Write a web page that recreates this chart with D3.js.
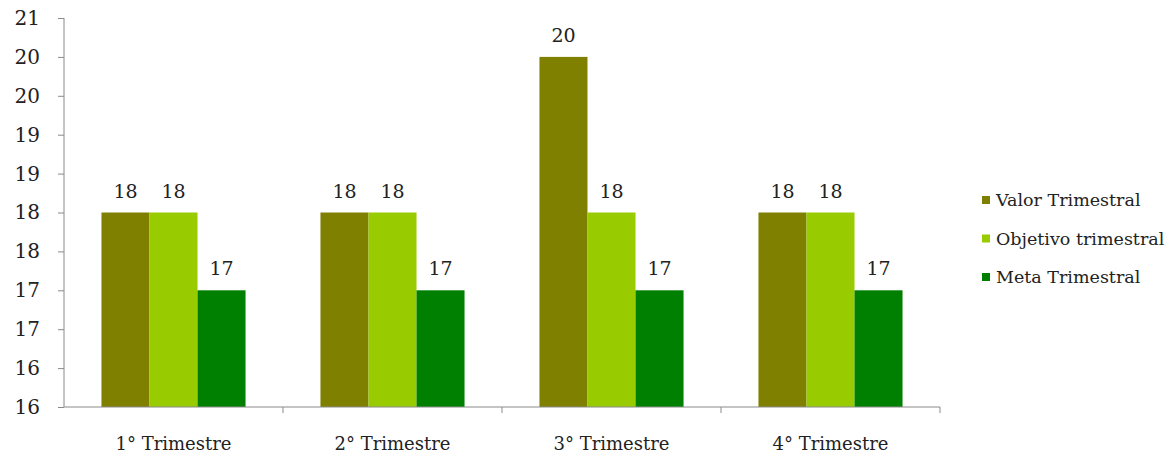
<!DOCTYPE html>
<html>
<head>
<meta charset="utf-8">
<script src="https://cdn.jsdelivr.net/npm/d3@7"></script>
<style>
  body { margin: 0; background: #fff; }
</style>
</head>
<body>
<div id="chart"></div>
<script>
// data
var categories = ["1° Trimestre", "2° Trimestre", "3° Trimestre", "4° Trimestre"];
var series = ["Valor Trimestral", "Objetivo trimestral", "Meta Trimestral"];
var valor = [18.5, 18.5, 20.5, 18.5];
var objetivo = [18.5, 18.5, 18.5, 18.5];
var meta = [17.5, 17.5, 17.5, 17.5];
var yTicks = [16, 16.5, 17, 17.5, 18, 18.5, 19, 19.5, 20, 20.5, 21];
var colors = ["#808000", "#99cc00", "#008000"];

var values = [valor, objetivo, meta];
var FONT = "'DejaVu Serif', serif";

var W = 1175, H = 459;
var margin = {top: 18, right: 235, bottom: 52, left: 64},
    width = W - margin.left - margin.right,
    height = H - margin.top - margin.bottom;

var svg = d3.select("#chart").append("svg")
    .attr("width", W)
    .attr("height", H)
  .append("g")
    .attr("transform", "translate(" + margin.left + "," + margin.top + ")");

var x0 = d3.scaleBand().domain(categories).range([0, width]).padding(0);
var x1 = d3.scaleBand().domain(series).range([0, x0.bandwidth()])
    .paddingInner(0).paddingOuter(0.78);
var y = d3.scaleLinear().domain([16, 21]).range([height, 0]);
var color = d3.scaleOrdinal().domain(series).range(colors);

// bars
var groups = svg.selectAll(".grp")
    .data(categories)
  .enter().append("g")
    .attr("class", "grp")
    .attr("transform", function(d) { return "translate(" + x0(d) + ",0)"; });

groups.selectAll("rect")
    .data(function(d, i) { return series.map(function(s, j) { return {s: s, v: values[j][i]}; }); })
  .enter().append("rect")
    .attr("x", function(d) { return x1(d.s); })
    .attr("y", function(d) { return y(d.v); })
    .attr("width", x1.bandwidth())
    .attr("height", function(d) { return height - y(d.v); })
    .attr("fill", function(d) { return color(d.s); });

groups.selectAll(".lbl")
    .data(function(d, i) { return series.map(function(s, j) { return {s: s, v: values[j][i]}; }); })
  .enter().append("text")
    .attr("class", "lbl")
    .attr("x", function(d) { return x1(d.s) + x1.bandwidth() / 2; })
    .attr("y", function(d) { return y(d.v) - 15; })
    .attr("text-anchor", "middle")
    .attr("fill", "#222")
    .style("font-family", FONT)
    .style("font-size", "19px")
    .text(function(d) { return Math.floor(d.v); });

// y axis
var yAxis = svg.append("g")
    .call(d3.axisLeft(y).tickValues(yTicks).tickSize(6).tickPadding(18)
      .tickFormat(function(d) { return Math.floor(d); }));
yAxis.select(".domain").attr("stroke", "#8a8a8a").attr("d", "M0," + height + "V0");
yAxis.selectAll(".tick line").attr("stroke", "#8a8a8a");
yAxis.selectAll(".tick text")
    .style("font-family", FONT)
    .style("font-size", "20px")
    .attr("fill", "#222");

// x axis
var xAxis = svg.append("g")
    .attr("transform", "translate(0," + height + ")")
    .call(d3.axisBottom(x0).tickSize(0).tickPadding(30));
xAxis.select(".domain").attr("stroke", "#8a8a8a").attr("d", "M0,0H" + width);
xAxis.selectAll(".tick text")
    .style("font-family", FONT)
    .style("font-size", "18px")
    .attr("fill", "#222");

// category separators
svg.append("g").selectAll("line")
    .data(categories.slice(1).concat(["end"]))
  .enter().append("line")
    .attr("x1", function(d) { return d === "end" ? width : x0(d); })
    .attr("x2", function(d) { return d === "end" ? width : x0(d); })
    .attr("y1", height)
    .attr("y2", height + 6)
    .attr("stroke", "#8a8a8a");

// legend
var ly = d3.scalePoint().domain(series).range([200 - margin.top, 277 - margin.top]);
var legend = svg.selectAll(".legend")
    .data(series)
  .enter().append("g")
    .attr("class", "legend")
    .attr("transform", function(d) { return "translate(" + (width + 42) + "," + ly(d) + ")"; });

legend.append("rect")
    .attr("x", 0)
    .attr("y", -4)
    .attr("width", 8)
    .attr("height", 8)
    .attr("fill", color);

legend.append("text")
    .attr("x", 14)
    .attr("y", 0)
    .attr("dy", "0.35em")
    .attr("fill", "#222")
    .style("font-family", FONT)
    .style("font-size", "17.5px")
    .text(function(d) { return d; });
</script>
</body>
</html>
